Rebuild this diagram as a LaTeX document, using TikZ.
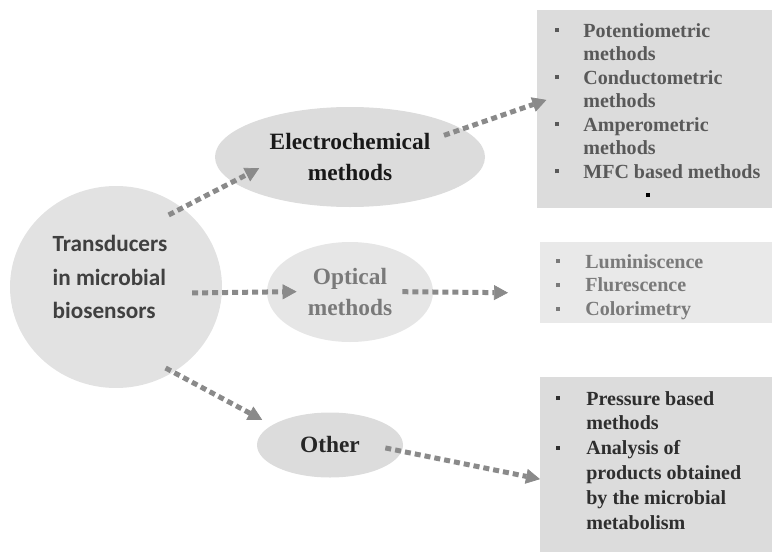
\documentclass[tikz,border=0pt]{standalone}
\usepackage{fontspec}
\setmainfont{Liberation Serif}
\newfontfamily\carlito{Carlito}
\usetikzlibrary{shapes.geometric,arrows.meta}

\definecolor{arrowgray}{HTML}{8A8A8A}
\definecolor{circlegray}{HTML}{E2E2E2}
\definecolor{ovalgray}{HTML}{DCDCDC}
\definecolor{paleoval}{HTML}{E6E6E6}
\definecolor{panelgray}{HTML}{DCDCDC}
\definecolor{palepanel}{HTML}{E9E9E9}
\definecolor{electrotext}{HTML}{595959}
\definecolor{optictext}{HTML}{7A7A7A}
\definecolor{othertext}{HTML}{2E2E2E}

\newcommand{\bsq}{\rule[0.1cm]{0.08cm}{0.08cm}}

\begin{document}
\begin{tikzpicture}[
    oval/.style={ellipse, fill=#1, inner sep=0pt, align=center,
      font=\bfseries\fontsize{13.3}{18.2}\selectfont},
    panel/.style={rectangle, fill=#1, inner sep=0pt, anchor=north west},
    items/.style={anchor=base west, inner sep=0pt,
      font=\bfseries\fontsize{11.4}{13.4}\selectfont},
    dots/.style={draw=arrowgray, line width=0.1cm,
      dash pattern=on 0.12cm off 0.08cm,
      -{Triangle[length=0.28cm, width=0.3cm, line width=0.4pt]}}
  ]
  \useasboundingbox (0,0) rectangle (15.44,11.1);

  \node[ellipse, fill=circlegray, minimum width=4.24cm, minimum height=4.04cm,
    inner sep=0pt, text=black!75, font=\carlito\bfseries\fontsize{13.2}{19.3}\selectfont]
    (trans) at (2.32,5.36) {\hspace*{-0.24cm}\raisebox{0.07cm}[0pt][0pt]{%
    \begin{tabular}{@{}l@{}}Transducers\\in microbial\\biosensors\end{tabular}}};

  \node[oval=ovalgray, minimum width=5.4cm, minimum height=2cm, text=black!90]
    (elec) at (7,7.96) {Electrochemical\\methods};
  \node[oval=paleoval, minimum width=3.32cm, minimum height=2cm, text=optictext]
    (opt) at (7,5.26) {Optical\\methods};
  \node[oval=ovalgray, minimum width=2.92cm, minimum height=1.3cm, text=black!85]
    (other) at (6.6,2.2) {Other};

  \node[panel=panelgray, minimum width=4.7cm, minimum height=3.96cm]
    (electrobox) at (10.74,10.9) {};
  \node[panel=palepanel, minimum width=4.64cm, minimum height=1.62cm]
    (opticbox) at (10.8,6.26) {};
  \node[panel=panelgray, minimum width=4.64cm, minimum height=3.5cm]
    (otherbox) at (10.8,3.56) {};

  \node[items, text=electrotext] (electrolist)
    at ([shift={(0.36,-0.54)}]electrobox.north west) {%
    \begin{tabular}[t]{@{}p{0.56cm}@{}l@{}}
      \bsq & Potentiometric\\
           & methods\\
      \bsq & Conductometric\\
           & methods\\
      \bsq & Amperometric\\
           & methods\\
      \bsq & MFC based methods\\
           & \hspace*{1.26cm}\textcolor{black}{\bsq}
    \end{tabular}};

  \node[items, text=optictext, font=\bfseries\fontsize{11.4}{13.6}\selectfont]
    (opticlist) at ([shift={(0.32,-0.52)}]opticbox.north west) {%
    \begin{tabular}[t]{@{}p{0.58cm}@{}l@{}}
      \bsq & Luminiscence\\
      \bsq & Flurescence\\
      \bsq & Colorimetry
    \end{tabular}};

  \node[items, text=othertext, font=\bfseries\fontsize{11.4}{14.2}\selectfont]
    (otherlist) at ([shift={(0.32,-0.56)}]otherbox.north west) {%
    \begin{tabular}[t]{@{}p{0.6cm}@{}l@{}}
      \bsq & Pressure based\\
           & methods\\
      \bsq & Analysis of\\
           & products obtained\\
           & by the microbial\\
           & metabolism
    \end{tabular}};

  \draw[dots, shorten <=-0.31cm, shorten >=-0.6cm] (trans.50) -- (elec.192);
  \draw[dots, shorten <=-0.39cm, shorten >=-0.2cm] (elec.14) -- (electrobox.177);
  \draw[dots, shorten <=-0.6cm, shorten >=-0.6cm] (trans.-3) -- (opt.west);
  \draw[dots, shorten <=-0.62cm, shorten >=0.64cm] (opt.east) -- (opticbox.185);
  \draw[dots, shorten <=-0.18cm, shorten >=0.22cm] (trans.-56) -- (other.161);
  \draw[dots, shorten <=-0.34cm] (other.-5) -- (otherbox.187);
\end{tikzpicture}
\end{document}
